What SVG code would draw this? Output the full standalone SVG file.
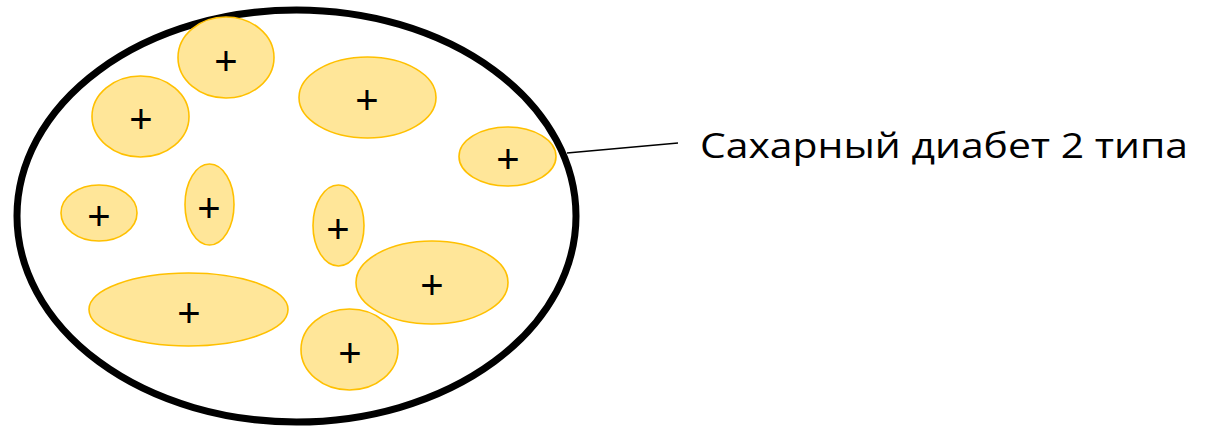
<svg xmlns="http://www.w3.org/2000/svg" width="1208" height="428" viewBox="0 0 1208 428">
<style>
.cell{fill:#FFE699;stroke:#FFC000;stroke-width:1.6}
.plus{font-family:"Liberation Sans",Arial,sans-serif;font-size:40px;fill:#000;text-anchor:middle}
.label{font-family:"Open Sans","Liberation Sans",Arial,sans-serif;font-size:34px;fill:#000}
</style>
<rect width="1208" height="428" fill="#fff"/>
<g id="population">
<ellipse cx="296.5" cy="216" rx="279.5" ry="206" fill="none" stroke="#000" stroke-width="7"/>
</g>
<g id="c1"><ellipse class="cell" cx="226" cy="57.5" rx="48" ry="40.5"/><text class="plus" x="226" y="75">+</text></g>
<g id="c2"><ellipse class="cell" cx="140.5" cy="116.5" rx="48.5" ry="40.5"/><text class="plus" x="141" y="133">+</text></g>
<g id="c3"><ellipse class="cell" cx="367.5" cy="97.5" rx="68.5" ry="40.5"/><text class="plus" x="367" y="114">+</text></g>
<g id="c4"><ellipse class="cell" cx="507.5" cy="156.5" rx="48.5" ry="29.5"/><text class="plus" x="508" y="173">+</text></g>
<g id="c5"><ellipse class="cell" cx="99" cy="213" rx="38" ry="28"/><text class="plus" x="99" y="230">+</text></g>
<g id="c6"><ellipse class="cell" cx="209.5" cy="204.5" rx="24.5" ry="40.5"/><text class="plus" x="209" y="222">+</text></g>
<g id="c7"><ellipse class="cell" cx="188.5" cy="309.5" rx="99.5" ry="36.5"/><text class="plus" x="189" y="327">+</text></g>
<g id="c8"><ellipse class="cell" cx="338.5" cy="225.5" rx="25.5" ry="40.5"/><text class="plus" x="338" y="242.5">+</text></g>
<g id="c9"><ellipse class="cell" cx="432" cy="282.5" rx="76" ry="41.5"/><text class="plus" x="432" y="299">+</text></g>
<g id="c10"><ellipse class="cell" cx="349.5" cy="349.5" rx="48.5" ry="40.5"/><text class="plus" x="350" y="366.5">+</text></g>
<g id="connectors">
<line x1="567" y1="153" x2="678" y2="143" stroke="#000" stroke-width="1.6"/>
</g>
<g id="label">
<text class="label" x="700" y="158" textLength="488" lengthAdjust="spacingAndGlyphs">Сахарный диабет 2 типа</text>
</g>
</svg>
